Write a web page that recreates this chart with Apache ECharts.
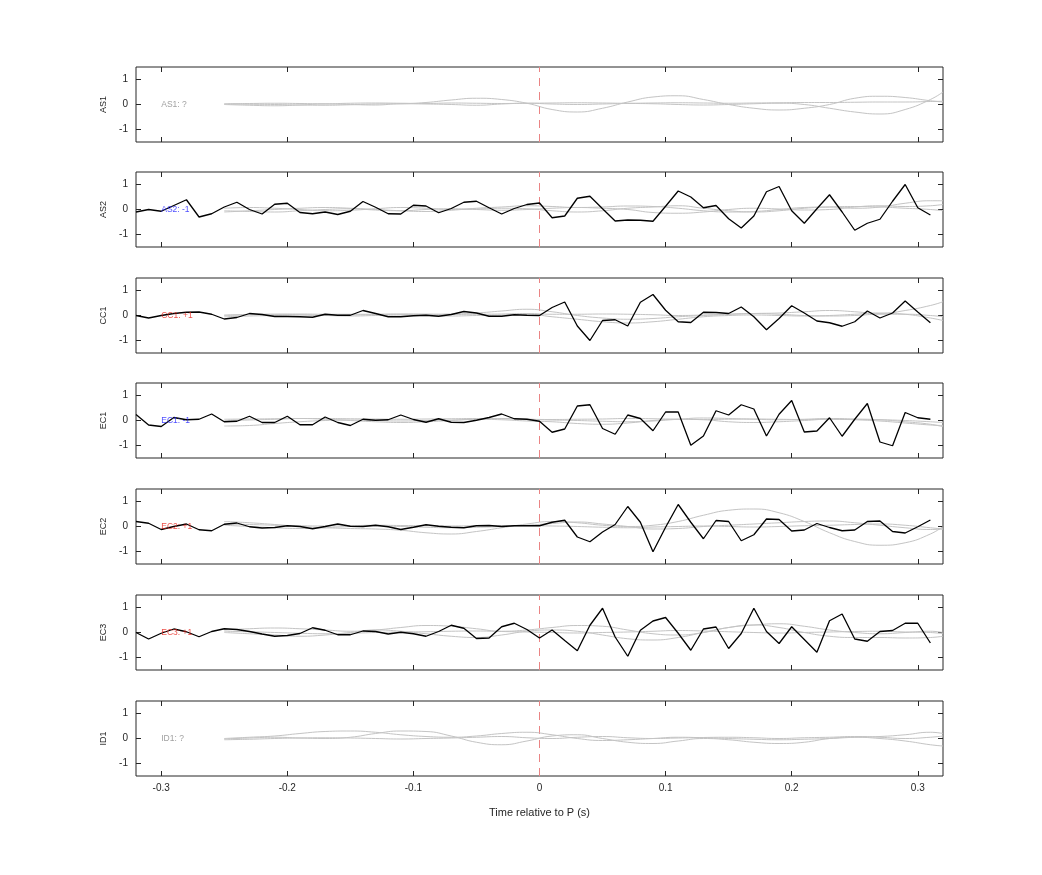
<!DOCTYPE html>
<html><head><meta charset="utf-8">
<script src="https://cdn.jsdelivr.net/npm/echarts@6/dist/echarts.min.js"></script>
<style>html,body{margin:0;padding:0;background:#fff}#c{width:1042px;height:875px}</style>
</head><body><div id="c"></div>
<script>
const stations = ['AS1','AS2','CC1','EC1','EC2','EC3','ID1'];
const polarityText = ['AS1: ?','AS2: -1','CC1: +1','EC1: -1','EC2: +1','EC3: +1','ID1: ?'];
const polarityColor = ['#888888','#1a1aff','#e8241c','#1a1aff','#e8241c','#e8241c','#888888'];
const xTicks = [-0.3,-0.2,-0.1,0,0.1,0.2,0.3];
const yTicks = [-1,0,1];
const tBlack = [-0.32,-0.31,-0.30,-0.29,-0.28,-0.27,-0.26,-0.25,-0.24,-0.23,-0.22,-0.21,-0.20,-0.19,-0.18,-0.17,-0.16,-0.15,-0.14,-0.13,-0.12,-0.11,-0.10,-0.09,-0.08,-0.07,-0.06,-0.05,-0.04,-0.03,-0.02,-0.01,
 0,0.01,0.02,0.03,0.04,0.05,0.06,0.07,0.08,0.09,0.10,0.11,0.12,0.13,0.14,0.15,0.16,0.17,0.18,0.19,0.20,0.21,0.22,0.23,0.24,0.25,0.26,0.27,0.28,0.29,0.30,0.31];
const blackAS1 = null;
const blackAS2 = [-0.1,0,-0.07,0.16,0.39,-0.3,-0.17,0.1,0.29,0,-0.18,0.21,0.25,-0.12,-0.17,-0.1,-0.2,-0.07,0.32,0.09,-0.17,-0.18,0.17,0.14,-0.13,0.04,0.29,0.33,0.07,-0.18,0.04,0.2,
 0.26,-0.33,-0.26,0.45,0.53,0.03,-0.46,-0.42,-0.43,-0.47,0.13,0.74,0.5,0.07,0.16,-0.37,-0.74,-0.26,0.71,0.92,-0.05,-0.55,0.03,0.59,-0.1,-0.83,-0.55,-0.39,0.33,1.0,0.07,-0.22];
const blackCC1 = [0,-0.1,0,0.08,0.13,0.14,0.05,-0.14,-0.08,0.08,0.04,-0.04,-0.04,-0.05,-0.07,0.05,0.01,0.01,0.2,0.08,-0.05,-0.05,-0.01,0.01,-0.03,0.04,0.16,0.1,-0.03,-0.03,0.03,0.01,
 0,0.32,0.54,-0.42,-1.0,-0.2,-0.17,-0.42,0.53,0.84,0.21,-0.25,-0.28,0.13,0.12,0.08,0.34,-0.05,-0.57,-0.12,0.39,0.1,-0.22,-0.29,-0.43,-0.25,0.18,-0.1,0.1,0.58,0.14,-0.29];
const blackEC1 = [0.24,-0.18,-0.24,0.12,0.03,0.05,0.26,-0.05,-0.03,0.17,-0.08,-0.08,0.17,-0.17,-0.17,0.14,-0.08,-0.2,0.05,0.01,0.03,0.22,0.04,-0.07,0.07,-0.07,-0.08,0.01,0.12,0.26,0.07,0.05,
 -0.03,-0.47,-0.34,0.58,0.63,-0.32,-0.55,0.22,0.08,-0.41,0.34,0.34,-0.99,-0.62,0.39,0.22,0.63,0.46,-0.62,0.25,0.8,-0.46,-0.42,0.11,-0.63,0.05,0.68,-0.86,-1.01,0.32,0.11,0.05];
const blackEC2 = [0.2,0.13,-0.12,0,0.1,-0.13,-0.17,0.09,0.14,-0.01,-0.06,-0.04,0.03,0,-0.09,0,0.1,0.01,0,0.05,-0.01,-0.12,-0.03,0.07,0.01,-0.03,-0.05,0.03,0.04,0,0.03,0.03,
 0.03,0.17,0.25,-0.42,-0.61,-0.22,0.08,0.8,0.17,-1.01,-0.03,0.88,0.17,-0.49,0.24,0.2,-0.57,-0.33,0.3,0.28,-0.18,-0.14,0.12,-0.04,-0.17,-0.14,0.2,0.22,-0.2,-0.26,-0.01,0.26];
const blackEC3 = [0,-0.26,-0.03,0.14,0.03,-0.17,0.04,0.15,0.12,0.04,-0.06,-0.15,-0.12,-0.04,0.19,0.09,-0.09,-0.09,0.06,0.04,-0.06,0.01,-0.05,-0.15,0.04,0.29,0.17,-0.24,-0.22,0.23,0.37,0.12,
 -0.22,0.1,-0.32,-0.73,0.29,0.97,-0.18,-0.95,0.09,0.46,0.6,-0.03,-0.71,0.14,0.22,-0.64,-0.04,0.97,0.04,-0.44,0.23,-0.28,-0.79,0.47,0.74,-0.26,-0.35,0.04,0.08,0.37,0.37,-0.42];
const blackID1 = null;

const tGrey = [-0.25,-0.23,-0.21,-0.19,-0.17,-0.15,-0.13,-0.11,-0.09,-0.07,-0.05,-0.03,-0.01,0.01,0.03,0.05,0.07,0.09,0.11,0.13,0.15,0.17,0.19,0.21,0.23,0.25,0.27,0.29,0.31,0.32];
const greyAS1 = [
 [0.02,0.01,0,-0.02,-0.03,-0.01,0.02,0.03,0.08,0.18,0.25,0.2,0.05,-0.2,-0.3,-0.15,0.1,0.3,0.35,0.2,0,-0.15,-0.22,-0.15,0,0.25,0.33,0.28,0.15,0.1],
 [0,-0.03,-0.05,-0.02,0.02,0,-0.02,0.03,0.02,0,-0.03,0.02,0.05,0.02,0,0.02,0.04,0.03,0,-0.02,0,0.03,0.05,0,-0.15,-0.3,-0.38,-0.2,0.2,0.5],
 [0.03,0.04,0.05,0.04,0.03,0.05,0.06,0.05,0.04,0.06,0.05,0.04,0.05,0.06,0.07,0.06,0.05,0.06,0.07,0.06,0.05,0.06,0.07,0.08,0.08,0.09,0.1,0.1,0.12,0.13]];
const greyAS2 = [
 [-0.1,-0.05,0,0.05,0.08,0.05,0,-0.05,-0.08,-0.03,0.05,0.1,0.15,0.12,0.08,0.1,0.14,0.12,0.05,-0.05,-0.1,-0.08,0,0.08,0.1,0.05,0.1,0.25,0.35,0.35],
 [0.05,0.08,0.05,0,-0.05,-0.03,0.03,0.08,0.05,0,0.02,0.05,0.03,-0.05,-0.1,-0.05,0.05,0.1,0.15,0.05,-0.05,-0.1,-0.05,0.05,0.1,0.12,0.1,0.05,0,-0.05],
 [-0.05,-0.08,-0.1,-0.05,0,0.03,-0.02,-0.05,0,0.03,0,-0.03,0,0.05,0.08,0.05,0,-0.12,-0.15,-0.1,0,0.05,0.02,-0.02,0,0.1,0.15,0.12,0.15,0.2]];
const greyCC1 = [
 [0,0.03,0.05,0.03,0,0.02,0.04,0.05,0.05,0.06,0.1,0.18,0.25,0.15,0,-0.1,-0.15,-0.12,-0.05,0,0.05,0.08,0.1,0.15,0.2,0.15,0.08,0.2,0.4,0.55],
 [-0.05,-0.02,0,0.02,0,-0.02,0,0.02,0,-0.02,0,0.02,0.05,-0.05,-0.15,-0.25,-0.3,-0.25,-0.15,-0.05,0,0.02,0,-0.02,0,0.05,0.1,0.05,-0.1,-0.2],
 [0.02,0.04,0.05,0.06,0.05,0.05,0.05,0.06,0.05,0.04,0.05,0.06,0.08,0.05,0.05,0.06,0.05,0.03,0,0.02,0.05,0.08,0.05,0,-0.02,0,0.05,0.05,0,-0.05]];
const greyEC1 = [
 [-0.22,-0.2,-0.12,-0.05,0,0.02,0,-0.02,0,0.02,0.05,0.08,0.05,0.02,0,-0.03,-0.05,-0.02,0.05,0.1,0.08,0.05,0.03,0.05,0.08,0.06,0.03,-0.05,-0.15,-0.25],
 [0,0.02,0.05,0.08,0.05,0,-0.05,-0.08,-0.05,0,0.05,0.03,-0.02,-0.05,-0.12,-0.15,-0.1,0,0.05,0.03,-0.05,-0.08,-0.05,0,0.05,0.03,-0.02,-0.1,-0.18,-0.2],
 [0.05,0.06,0.07,0.08,0.08,0.07,0.06,0.05,0.06,0.07,0.08,0.07,0.05,0.04,0.05,0.06,0.08,0.07,0.05,0.04,0.05,0.06,0.05,0.04,0.05,0.04,0.03,0,-0.05,-0.08]];
const greyEC2 = [
 [0.2,0.15,0.08,0,-0.05,-0.08,-0.1,-0.15,-0.25,-0.3,-0.2,-0.05,0.1,0.2,0.15,0.05,0,0.05,0.2,0.45,0.65,0.7,0.55,0.2,-0.25,-0.6,-0.75,-0.65,-0.3,0],
 [0.05,0,-0.05,-0.08,-0.05,0,0.02,0,-0.03,-0.05,-0.03,0,0.05,0.12,0.18,0.1,0,-0.1,-0.08,0,0.05,0.1,0.15,0.2,0.22,0.15,0.05,-0.05,-0.12,-0.1],
 [0.1,0.08,0.05,0.03,0.02,0.03,0.05,0.04,0.03,0.02,0.03,0.04,0.03,0.02,0,-0.03,-0.05,-0.02,0,0.02,0,-0.02,0,0.03,0.05,0.08,0.1,0.05,-0.05,-0.1]];
const greyEC3 = [
 [0.1,0.15,0.18,0.15,0.1,0.05,0.1,0.2,0.28,0.25,0.15,0.05,0.1,0.2,0.28,0.25,0.1,-0.05,-0.1,0,0.2,0.3,0.35,0.25,0.1,0,-0.05,0,0.05,0],
 [0,-0.05,-0.1,-0.15,-0.1,0,0.1,0.05,-0.05,-0.15,-0.2,-0.1,0.05,0.1,0.05,-0.1,-0.25,-0.3,-0.2,0,0.2,0.3,0.2,0,-0.15,-0.2,-0.2,-0.22,-0.2,-0.15],
 [0.05,0.03,0,-0.03,-0.05,-0.03,0,0.02,0.03,0.05,0.06,0.04,0.02,0,-0.02,0,0.02,0.05,0.08,0.06,0.03,0,-0.02,0,0.02,0.04,0.05,0.02,0,-0.05]];
const greyID1 = [
 [0,0.05,0.1,0.2,0.28,0.3,0.25,0.15,0.08,0.05,0.1,0.2,0.25,0.15,0,-0.08,-0.05,0,0.05,0.03,0,-0.03,-0.05,-0.03,0,0.05,0.08,0.15,0.25,0.2],
 [-0.02,0.02,0.05,0.02,0,0.05,0.2,0.3,0.28,0.1,-0.15,-0.25,-0.1,0.1,0.15,0,-0.15,-0.2,-0.1,0,-0.05,-0.15,-0.2,-0.15,0,0.05,0,-0.1,-0.25,-0.3],
 [-0.05,-0.03,0,0.02,0.03,0.02,0,-0.02,0,0.02,0.05,0.08,0.03,0,0.05,0.08,0.03,0,0.02,0.04,0.05,0.03,0,0.03,0.05,0.08,0.05,0,0.05,0.1]];
const pickTime = 0;
const yRange = [-1.5, 1.5];

const blacks = [blackAS1,blackAS2,blackCC1,blackEC1,blackEC2,blackEC3,blackID1];
const greys = [greyAS1,greyAS2,greyCC1,greyEC1,greyEC2,greyEC3,greyID1];

const tops = [67,172,278,383,489,595,701];
const H = 75;
const FONT = 'Liberation Sans';
const grid=[], xAxis=[], yAxis=[], series=[];
stations.forEach((st,i)=>{
  grid.push({left:136,width:807,top:tops[i],height:H,show:true,borderColor:'#262626',borderWidth:1,backgroundColor:'#fff'});
  const last = i===stations.length-1;
  const tick = {show:true,inside:true,length:5,customValues:xTicks,lineStyle:{color:'#262626'}};
  const noLine = {show:false,onZero:false};
  xAxis.push({gridIndex:i,type:'value',min:-0.32,max:0.32,position:'bottom',
    axisLine:noLine,splitLine:{show:false},axisTick:tick,
    axisLabel:{show:last,customValues:xTicks,color:'#262626',fontFamily:FONT,fontSize:10,margin:7,formatter:v=>String(Math.round(v*10)/10)},
    name:last?'Time relative to P (s)':'',nameLocation:'middle',nameGap:31,nameTextStyle:{color:'#262626',fontFamily:FONT,fontSize:11}});
  xAxis.push({gridIndex:i,type:'value',min:-0.32,max:0.32,position:'top',
    axisLine:noLine,splitLine:{show:false},axisTick:tick,axisLabel:{show:false}});
  const ytick={show:true,inside:true,length:5,customValues:yTicks,lineStyle:{color:'#262626'}};
  yAxis.push({gridIndex:i,type:'value',min:-1.5,max:1.5,position:'left',axisLine:noLine,splitLine:{show:false},
    axisTick:ytick,axisLabel:{customValues:yTicks,color:'#262626',fontFamily:FONT,fontSize:10,margin:8},
    name:st,nameLocation:'middle',nameGap:26,nameRotate:90,nameTextStyle:{color:'#262626',fontFamily:FONT,fontSize:9}});
  yAxis.push({gridIndex:i,type:'value',min:-1.5,max:1.5,position:'right',axisLine:noLine,splitLine:{show:false},
    axisTick:ytick,axisLabel:{show:false}});
  const xi=2*i, yi=2*i;
  series.push({type:'line',xAxisIndex:xi,yAxisIndex:yi,data:[[pickTime,yRange[0]],[pickTime,yRange[1]]],symbol:'none',silent:true,
    lineStyle:{color:'#ea8484',type:[8,6],width:1},z:1});
  greys[i].forEach(g=>{
    series.push({type:'line',xAxisIndex:xi,yAxisIndex:yi,data:tGrey.map((t,k)=>[t,g[k]]),smooth:0.5,symbol:'none',
      lineStyle:{color:'#c4c4c4',width:1},silent:true,z:2});
  });
  if(blacks[i]) series.push({type:'line',xAxisIndex:xi,yAxisIndex:yi,data:tBlack.map((t,k)=>[t,blacks[i][k]]),symbol:'none',
    lineStyle:{color:'#000',width:1.3},silent:true,z:3});
  series.push({type:'scatter',xAxisIndex:xi,yAxisIndex:yi,data:[[-0.3,0]],symbolSize:0,silent:true,z:4,
    label:{show:true,position:'right',distance:0,formatter:polarityText[i],color:polarityColor[i],fontFamily:FONT,fontSize:8.5}});
});
const chart = echarts.init(document.getElementById('c'));
chart.setOption({animation:false,backgroundColor:'#fff',grid,xAxis,yAxis,series});
</script></body></html>
